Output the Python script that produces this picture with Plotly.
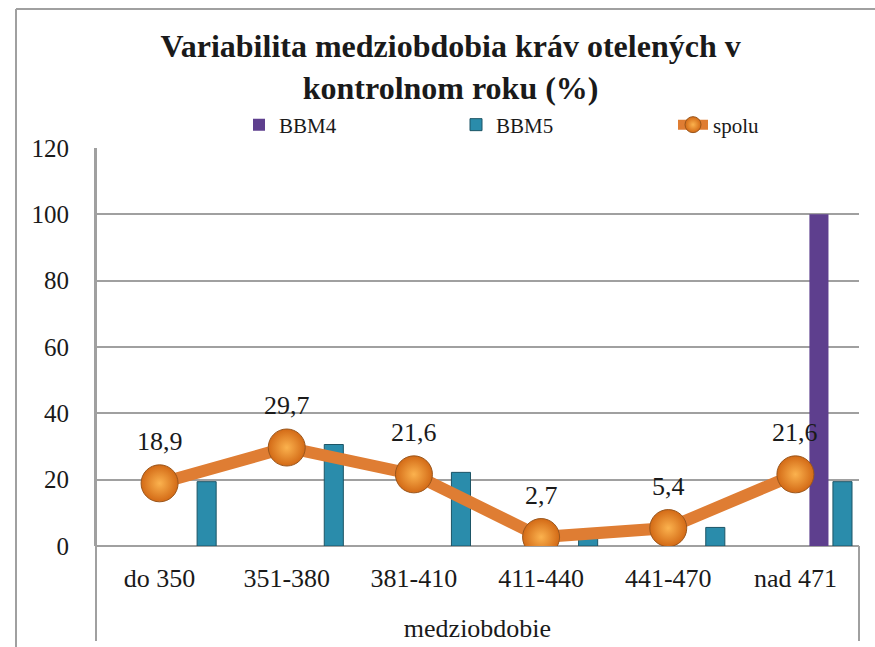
import plotly.graph_objects as go

categories = ["do 350", "351-380", "381-410", "411-440", "441-470", "nad 471"]
bbm4 = [0, 0, 0, 0, 0, 100]
bbm5 = [19.4, 30.6, 22.2, 2.8, 5.6, 19.4]
spolu = [18.9, 29.7, 21.6, 2.7, 5.4, 21.6]
y_ticks = [0, 20, 40, 60, 80, 100, 120]

FONT = "Liberation Serif"
W, H = 875, 647
L, R, T, B = 96, 16, 148, 101
PW, PH = W - L - R, H - T - B

def px_x(p):
    return (p - L) / PW

def px_y(p):
    return (H - B - p) / PH

fig = go.Figure()
fig.add_trace(go.Bar(
    name="BBM4", x=categories, y=bbm4, width=0.15, offset=0.11,
    marker=dict(color="#5E3F8E", line=dict(color="#3C2660", width=0)),
))
fig.add_trace(go.Bar(
    name="BBM5", x=categories, y=bbm5, width=0.15, offset=0.295,
    marker=dict(color="#2A8CAB", line=dict(color="#1D5566", width=1)),
))
fig.add_trace(go.Scatter(
    name="spolu", x=categories, y=spolu, mode="lines+markers",
    line=dict(color="#DF7D33", width=12),
    marker=dict(size=37, color="#D36A16",
                gradient=dict(type="radial", color="#FBB24E"),
                line=dict(color="#9A561C", width=1)),
))

annotations = []
for c, v in zip(categories, spolu):
    annotations.append(dict(
        x=c, y=v, yshift=42, showarrow=False,
        text=f"{v:.1f}".replace(".", ","),
        font=dict(family=FONT, size=26, color="#1a1a1a"),
    ))

line_col = "#A0A0A0"
shapes = [
    dict(type="line", xref="paper", yref="paper", x0=px_x(16), x1=px_x(16), y0=px_y(9), y1=px_y(660),
         line=dict(color=line_col, width=2)),
    dict(type="line", xref="paper", yref="paper", x0=px_x(16), x1=px_x(880), y0=px_y(9), y1=px_y(9),
         line=dict(color=line_col, width=2)),
    dict(type="line", xref="paper", yref="paper", x0=0, x1=0, y0=1, y1=px_y(641),
         line=dict(color=line_col, width=2)),
    dict(type="line", xref="paper", yref="paper", x0=1, x1=1, y0=0, y1=px_y(641),
         line=dict(color=line_col, width=2)),
]

fig.update_layout(
    width=W, height=H,
    margin=dict(l=L, r=R, t=T, b=B, autoexpand=False),
    paper_bgcolor="white", plot_bgcolor="white",
    barmode="overlay",
    font=dict(family=FONT, size=26, color="#1a1a1a"),
    title=dict(
        text="<b>Variabilita medziobdobia kráv otelených v<br>kontrolnom roku (%)</b>",
        x=0.515, xanchor="center", y=1 - 57 / H, yanchor="middle",
        font=dict(family=FONT, size=32, color="#1a1a1a"),
    ),
    legend=dict(
        orientation="h", x=px_x(239), xanchor="left", y=px_y(125), yanchor="middle",
        font=dict(family=FONT, size=21, color="#1a1a1a"),
        entrywidth=172, entrywidthmode="pixels",
        bgcolor="rgba(0,0,0,0)",
    ),
    xaxis=dict(
        type="category", showgrid=False, showline=False, ticks="", automargin=False,
        tickfont=dict(family=FONT, size=26), ticklabelstandoff=14,
        title=dict(text="medziobdobie", standoff=26, font=dict(family=FONT, size=26)),
        range=[-0.5, 5.5],
    ),
    yaxis=dict(
        range=[0, 120], tickvals=y_ticks, showgrid=True, gridcolor=line_col, gridwidth=2,
        showline=True, linecolor=line_col, linewidth=2, zeroline=True, zerolinecolor=line_col,
        zerolinewidth=2, ticks="", tickfont=dict(family=FONT, size=25), ticklabelstandoff=20,
        automargin=False,
    ),
    annotations=annotations,
    shapes=shapes,
)

fig.write_html("out.html", config={"displayModeBar": False},
               post_script="document.body.style.margin='0';")
